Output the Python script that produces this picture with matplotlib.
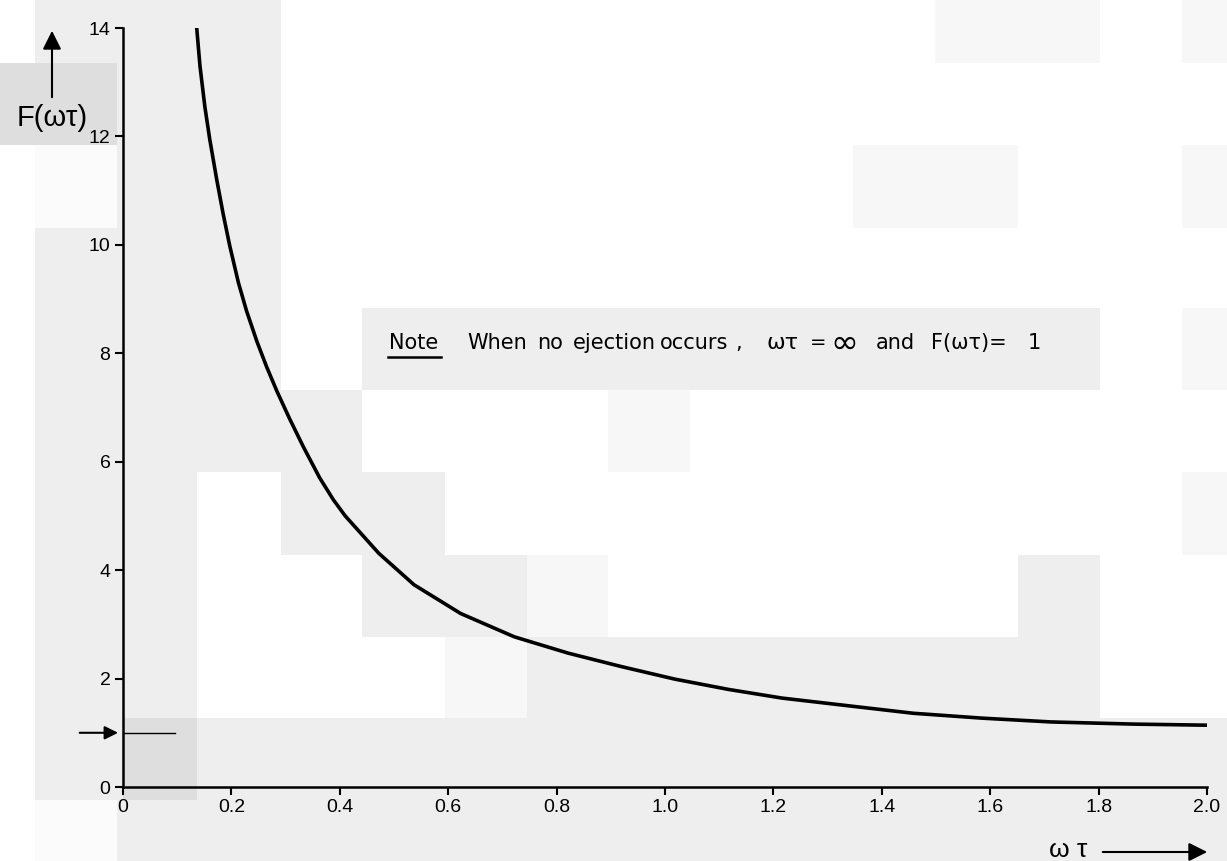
import matplotlib
matplotlib.use('Agg')
import matplotlib.pyplot as plt
from matplotlib.patches import Rectangle, FancyArrowPatch

plt.rcParams['font.family'] = ['Liberation Sans', 'DejaVu Sans']

# ---- data ----
omega_tau = [0.136, 0.142, 0.151, 0.160, 0.173, 0.185, 0.197, 0.213, 0.228, 0.247,
             0.265, 0.284, 0.308, 0.333, 0.363, 0.388, 0.410, 0.472, 0.537, 0.623,
             0.722, 0.821, 0.920, 1.018, 1.117, 1.216, 1.354, 1.458, 1.585, 1.712,
             1.865, 2.0]
F_values = [14.0, 13.3, 12.55, 11.95, 11.2, 10.56, 9.98, 9.30, 8.78, 8.22,
            7.75, 7.30, 6.78, 6.27, 5.70, 5.30, 5.00, 4.31, 3.73, 3.20,
            2.77, 2.47, 2.22, 1.99, 1.80, 1.64, 1.48, 1.36, 1.27, 1.20,
            1.16, 1.14]
x_ticks = [0, 0.2, 0.4, 0.6, 0.8, 1.0, 1.2, 1.4, 1.6, 1.8, 2.0]
x_tick_labels = ['0', '0.2', '0.4', '0.6', '0.8', '1.0', '1.2', '1.4', '1.6', '1.8', '2.0']
y_ticks = [0, 2, 4, 6, 8, 10, 12, 14]
y_tick_labels = ['0', '2', '4', '6', '8', '10', '12', '14']
asymptote_value = 1
note_title = 'Note'
note_words = ['When', 'no', 'ejection', 'occurs', ',', 'ωτ', '=', '∞', 'and', 'F(ωτ)=', '1']

W, H = 1227, 861
fig = plt.figure(figsize=(W / 100, H / 100), dpi=100)
fig.patch.set_facecolor('white')

# scanned-background shading blocks (pixel coords: x0, x1, y0, y1, colour)
G, Fa, D, Wh = '#eeeeee', '#f7f7f7', '#dedede', '#fbfbfb'
bg_blocks = [
    (35, 281, 0, 63, G), (0, 117, 63, 145, D), (117, 281, 63, 145, G),
    (35, 117, 145, 228, Wh), (117, 281, 145, 228, G), (35, 281, 228, 472, G),
    (35, 197, 472, 718, G), (281, 362, 390, 555, G), (362, 1100, 308, 390, G),
    (362, 445, 472, 555, G), (362, 527, 555, 637, G), (527, 608, 555, 637, Fa),
    (608, 690, 390, 472, Fa), (445, 527, 637, 718, Fa), (527, 1100, 637, 718, G),
    (1018, 1100, 555, 637, G), (35, 123, 718, 800, G), (123, 197, 718, 800, D),
    (197, 1227, 718, 800, G), (117, 1227, 800, 861, G), (35, 117, 800, 861, Wh),
    (853, 1018, 145, 228, Fa), (935, 1100, 0, 63, Fa),
    (1182, 1227, 0, 63, Fa), (1182, 1227, 145, 228, Fa),
    (1182, 1227, 308, 390, Fa), (1182, 1227, 472, 555, Fa),
]
for x0, x1, y0, y1, c in bg_blocks:
    fig.add_artist(Rectangle((x0 / W, 1 - y1 / H), (x1 - x0) / W, (y1 - y0) / H,
                             transform=fig.transFigure, facecolor=c,
                             edgecolor='none', zorder=-10))

ax = fig.add_axes([123 / W, 1 - 787 / H, (1207 - 123) / W, (787 - 28) / H])
ax.set_facecolor('none')
ax.plot(omega_tau, F_values, color='black', lw=2.6, solid_capstyle='round',
        solid_joinstyle='round')

ax.set_xlim(0, 2.0)
ax.set_ylim(0, 14)
ax.set_xticks(x_ticks)
ax.set_xticklabels(x_tick_labels)
ax.set_yticks(y_ticks)
ax.set_yticklabels(y_tick_labels)
for s in ['top', 'right']:
    ax.spines[s].set_visible(False)
for s in ['left', 'bottom']:
    ax.spines[s].set_linewidth(1.8)
ax.tick_params(direction='out', length=6, width=1.5, labelsize=14, pad=3)

# asymptote marker F = 1
ax.plot([0, 0.096], [asymptote_value, asymptote_value], color='black', lw=1.0,
        clip_on=False)
ax.annotate('', xy=(-0.004, asymptote_value), xytext=(-0.085, asymptote_value),
            arrowprops=dict(arrowstyle='-|>', color='black', lw=1.5,
                            mutation_scale=20),
            annotation_clip=False)

# note (words placed at the positions seen in the reference, pixel x)
px2x = lambda px: (px - 123) / 542.0
note_y = (787 - 343) / 54.2
ax.text(px2x(389), note_y, note_title, fontsize=15, va='center', ha='left',
        family=['DejaVu Sans'])
ax.plot([px2x(388), px2x(441)], [(787 - 357) / 54.2] * 2, color='black', lw=1.8)
word_px = [467, 537, 573, 660, 735, 766, 810, 830, 876, 931, 1028]
word_size = [15, 15, 15, 15, 15, 16, 14, 24, 15, 15, 15]
for w, px, fs in zip(note_words, word_px, word_size):
    ax.text(px2x(px), note_y, w, fontsize=fs, va='center', ha='left',
            family=['DejaVu Sans'])

# axis labels with arrows
fig.text(52 / W, 1 - 118 / H, 'F(ωτ)', ha='center', va='center', fontsize=21)
fig.add_artist(FancyArrowPatch((52 / W, 1 - 100 / H), (52 / W, 1 - 28 / H),
                               transform=fig.transFigure, arrowstyle='-|>',
                               mutation_scale=28, lw=1.5, color='black'))
fig.text(1068 / W, 1 - 850 / H, 'ω τ', ha='center', va='center', fontsize=19)
fig.add_artist(FancyArrowPatch((1100 / W, 1 - 852 / H), (1210 / W, 1 - 852 / H),
                               transform=fig.transFigure, arrowstyle='-|>',
                               mutation_scale=28, lw=1.5, color='black'))

fig.savefig('out.png', dpi=100, facecolor='white')
